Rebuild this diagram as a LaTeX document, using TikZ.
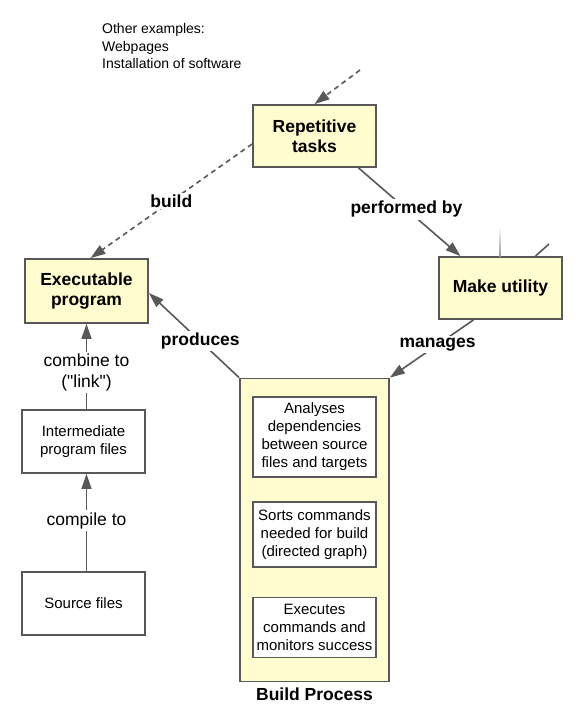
\documentclass[tikz,border=0pt]{standalone}
\usepackage{fontspec}
\setmainfont{Liberation Sans}
\usetikzlibrary{arrows.meta}
\definecolor{notefill}{RGB}{255,252,207}
\definecolor{edgegray}{RGB}{88,88,88}

\begin{document}
\begin{tikzpicture}[x=1pt, y=-1pt,
    topic/.style={draw=edgegray, line width=1.8pt, fill=notefill, minimum width=123pt, minimum height=62pt, inner sep=2pt, align=center, font=\fontsize{17.5}{20}\selectfont\bfseries},
    plain/.style={draw=edgegray, line width=1.8pt, fill=white, minimum width=123pt, inner sep=2pt, align=center, font=\fontsize{15}{18}\selectfont},
    link/.style={draw=edgegray, line width=1.6pt, -{Triangle[length=15pt,width=10pt]}},
    dlink/.style={link, dash pattern=on 5pt off 4pt},
    lbl/.style={fill=white, inner sep=2pt, font=\fontsize{17.5}{20}\selectfont\bfseries},
    rlbl/.style={fill=white, inner sep=2pt, align=center, font=\fontsize{17.5}{21}\selectfont}]
    \useasboundingbox (0,0) rectangle (583,724);

    % notes
    \node [anchor=north west, inner sep=0, align=left, font=\fontsize{14}{17.5}\selectfont] (other) at (102,23.5) {Other examples:\\Webpages\\Installation of software};

    % main topics
    \node [topic] (rep) at (314.5,136) {Repetitive\\tasks};
    \node [topic] (make) at (500.5,288) {Make utility};
    \node [topic, minimum height=64pt] (exec) at (86.5,291) {Executable\\program};

    % build process with its steps
    \node [draw=edgegray, line width=1.8pt, fill=notefill, minimum width=149pt, minimum height=303pt] (build) at (314.5,530) {};
    \node [lbl, fill=none] (buildlbl) at (314.5,694) {Build Process};
    \node [plain, minimum height=80pt] (analyse) at (314.5,437) {Analyses\\dependencies\\between source\\files and targets};
    \node [plain, minimum height=65pt] (sorts) at (314.5,534.5) {Sorts commands\\needed for build\\(directed graph)};
    \node [plain, minimum height=60pt] (runs) at (314.5,627.5) {Executes\\commands and\\monitors success};

    % files
    \node [plain, minimum height=63pt] (inter) at (83.5,441.5) {Intermediate\\program files};
    \node [plain, minimum height=63pt] (src) at (83.5,603.5) {Source files};

    % links
    \coordinate (topin) at (360,70);
    \draw [dlink] (topin) -- (rep.north);
    \draw [dlink] ([yshift=-8pt]rep.west) -- ([xshift=4pt]exec.north) node[lbl, pos=0.5]{build};
    \draw [link] ([xshift=44pt]rep.south) -- ([xshift=-40pt]make.north) node[lbl, pos=0.47]{performed by};
    \draw [link] ([xshift=-27pt]make.south) -- (build.north east) node[lbl, pos=0.43]{manages};
    \draw [link] (build.north west) -- ([yshift=-2pt]exec.east) node[lbl, pos=0.43]{produces};
    \draw [link] ([xshift=3pt]inter.north) -- (exec.south) node[rlbl, pos=0.43]{combine to\\(\textquotedbl link\textquotedbl)};
    \draw [link] ([xshift=3pt]src.north) -- ([xshift=3pt]inter.south) node[rlbl, pos=0.52]{compile to};

    % cut-off links above make
    \coordinate (cutb) at (549,244);
    \draw [edgegray, line width=1.6pt] ([xshift=35pt]make.north) -- (cutb);
    \shade [top color=white, bottom color=edgegray!60] (499.2,226) rectangle (500.8,256);
\end{tikzpicture}
\end{document}
